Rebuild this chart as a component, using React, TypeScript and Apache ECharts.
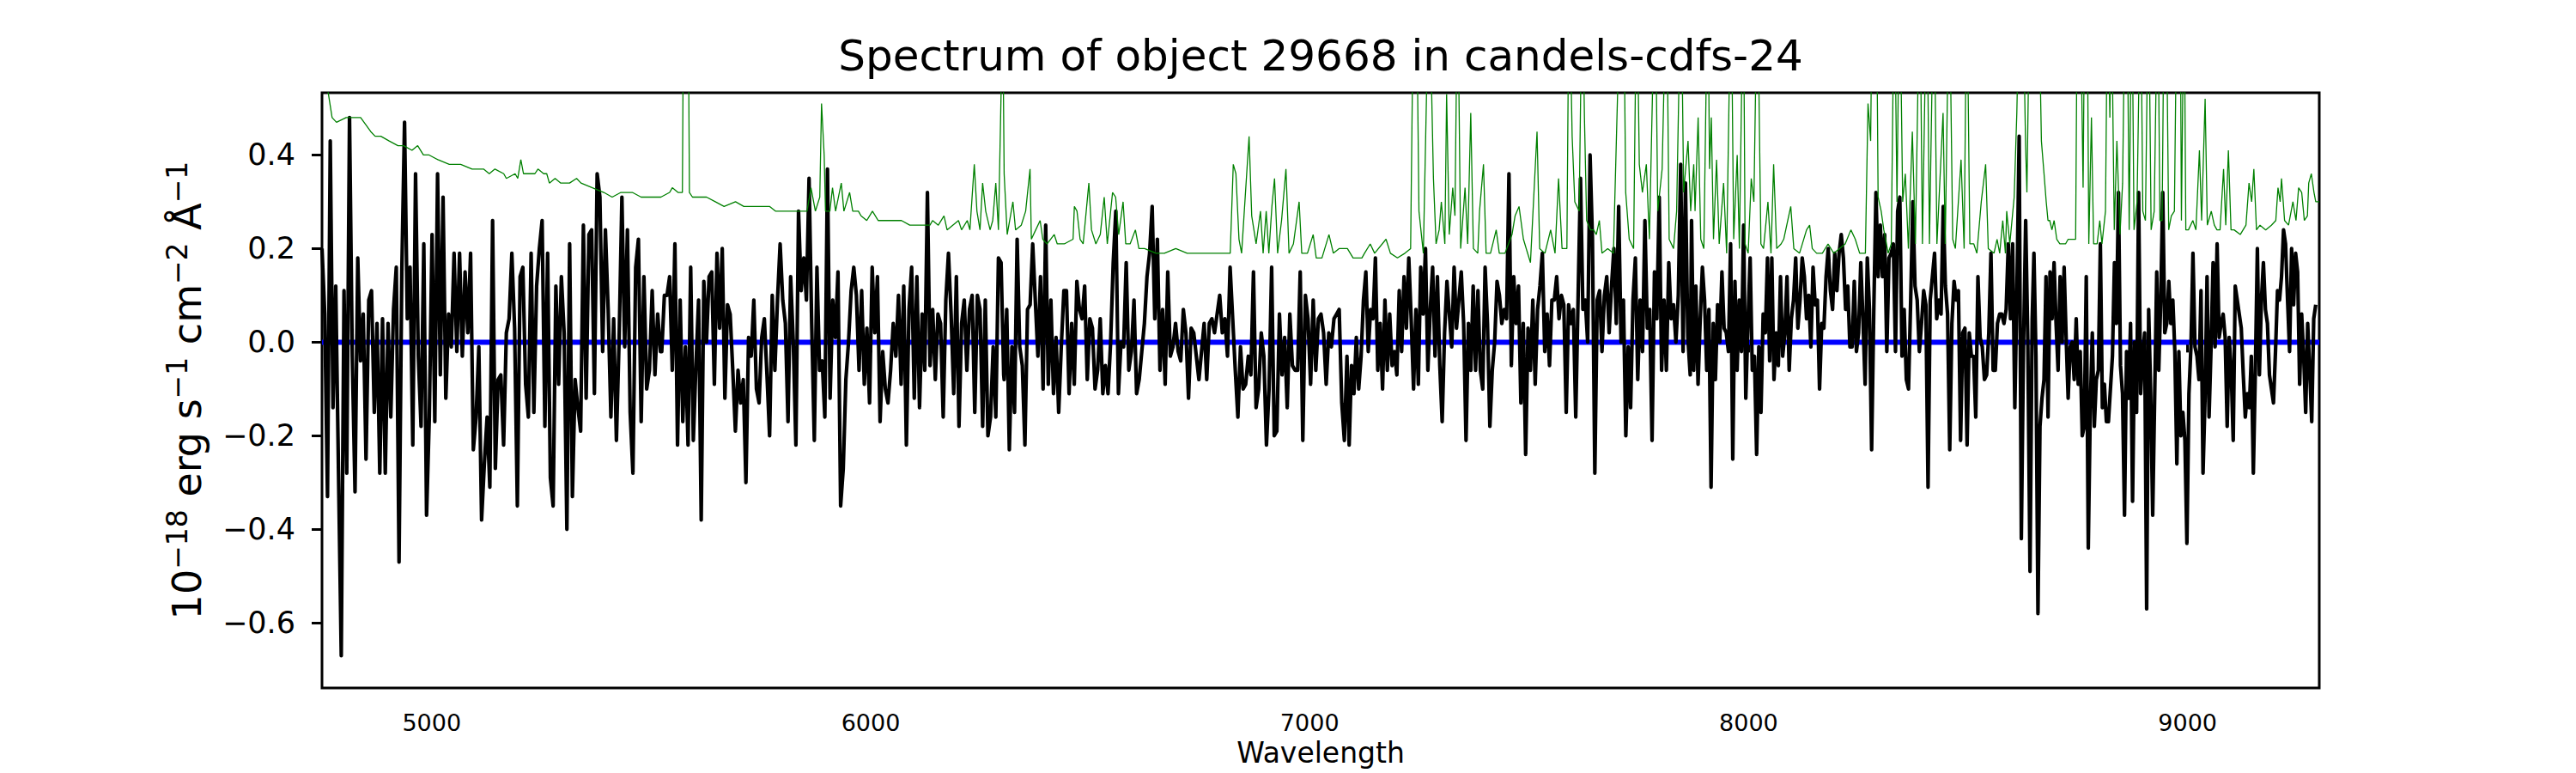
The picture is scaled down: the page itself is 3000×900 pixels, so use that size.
import React, { useEffect, useRef } from "react";
import * as echarts from "echarts";

// ---------------- data ----------------
const TITLE = "Spectrum of object 29668 in candels-cdfs-24";
const X_NAME = "Wavelength";
const X_MIN = 4750;
const X_MAX = 9300;
const Y_MIN = -0.739;
const Y_MAX = 0.533;
const X_TICKS = [5000, 6000, 7000, 8000, 9000];
const Y_TICKS = [-0.6, -0.4, -0.2, 0, 0.2, 0.4];

// flux values in units of 0.01 (x 1e-18 erg/s/cm2/A), sampled evenly inside each wavelength segment
const SEG_START = [4750, 5524, 6304, 7090, 7870, 8650];
const SEG_END = [5521, 6303, 7085, 7867, 8646, 9292];

const FLUX_A = [
  20, 6, -33, 43, -14, 12, -28, -67, 11, -28,
  48, -3, -32, 18, -4, 6, -25, 9, 11, -15,
  4, -28, 5, -28, 4, -16, 7, 16, -47, 15,
  47, 5, 16, -22, 36, -3, -18, 21, -37, -16,
  23, -17, 36, -7, 31, -12, 6, -1, 19, -2,
  19, -3, 15, 2, 19, -23, -16, -1, -38, -26,
  -16, -31, 26, -27, -8, -7, -22, 2, 5, 19,
  3, -35, 14, 16, -9, -16, 19, -15, 12, 20,
  26, -18, 19, -29, -35, 12, -9, 14, 2, -40,
  21, -33, -8, -14, -19, 25, -12, 23, 24, -11,
  36, 31, -2, 24, 7, -16, 5, -21, 1, 31,
  -1, 24, -15, -28, 16, 22, -17, 14, -10, -6,
  11, -7, 6, -2,
];

const FLUX_B = [
  -2, 10, 10, 14, -6, 21, -22, 9, -17, -1,
  -22, 16, -21, -5, 9, -38, 13, 0, 14, 15,
  -9, 19, 3, 20, -12, 8, 6, -6, -19, -6,
  -13, -8, -30, 1, -3, 9, -10, -13, 1, 5,
  -7, -20, 10, -6, 9, 21, 9, 4, -17, 14,
  0, -22, 28, 11, 18, 9, 35, 4, -21, 16,
  -6, -4, -16, 37, -12, 9, 1, 15, -35, -27,
  -8, 0, 11, 16, 10, -6, 11, -9, 3, -13,
  16, 2, 14, -17, -2, -10, -13, -6, 4, -3,
  10, -9, 12, -22, 7, 16, -12, 14, -14, 6,
  -6, 32, -5, 7, -8, 6, 4, -16, 9, 19,
  6, -11, 14, -18, 4, 9, -6, 7, 10, -15,
  10, 7, -18, 9, -20, -16, -1, -16, 18, 17, -7,
];

const FLUX_C = [
  -8, 7, -23, -1, -15, 22, -1, -5, -22, 7,
  8, 21, 9, -3, 14, -10, 25, -9, 9, -11,
  1, -15, -1, 11, 11, -11, 4, -9, 13, 7,
  5, 12, -8, 5, 3, -10, -6, 5, -11, -5,
  -11, 0, 17, 28, -11, 0, -1, 17, -6, -2,
  9, -11, -8, -2, 4, 14, 19, 29, 5, 22,
  -6, 7, -9, 15, -3, -1, 4, -2, -4, 7,
  2, -12, 3, 2, -3, -8, -2, 4, -8, 4,
  5, 2, 6, 10, 2, 5, -3, 16, 5, -6,
  -16, -1, -10, -9, -3, -7, 15, -14, -10, 2,
  -3, -22, -10, 16, -20, -19, 6, -7, 1, -14,
  6, -5, -6, -6, 15, -21, 10, 5, -9, 9,
  -6, 5, 6, 2, -9, 2, -1, 5, 6, 7,
  -13, -21, -3,
];

const FLUX_D = [
  -22, -5, -11, 1, -10, -3, 9, 15, -2, 7,
  5, 18, -6, 4, -10, 9, -6, 6, -5, -2,
  -7, 11, -2, 14, 3, 18, 5, -10, 7, -9,
  16, 6, 20, -6, 7, 16, -3, 14, -5, -17,
  2, 13, 6, -1, 16, 3, 9, 15, 4, -21,
  4, -6, 12, -6, 11, -6, -10, 16, 4, -18,
  -6, 0, 13, 10, 4, 7, 5, 36, -5, 14,
  4, 12, -13, 4, -24, 3, -6, 9, -9, 7,
  12, 19, -2, 6, -5, 9, 9, 14, 5, 10,
  8, -15, 8, 4, 7, -16, 10, 35, 7, 9,
  0, 40, 22, -28, 9, 11, -2, 10, 14, 2,
  12, 20, 4, 29, 0, 9, -20, -1, -14, 9,
  18, -8, 9, -2, 26, 3, 7, -21, 15, 5,
  31, -6, 9, -6, 17, 5, 8, 0, 10, 38,
  -2, 34, 1, -7,
];

const FLUX_E = [
  26, -6, 12, -9, 5, 16, 9, -6, 7, -31,
  4, -8, 8, 0, 15, 3, 2, -2, 21, -25,
  13, -6, 9, -2, 25, -12, 4, 18, -6, -3,
  -24, -1, -15, 6, 2, 18, -4, 18, -8, 2,
  -5, 14, -3, 2, 14, -6, 5, 9, 18, 3,
  9, 18, 14, 5, 10, -1, 16, 8, 9, -10,
  4, 3, 14, 20, 11, 7, 19, 11, 19, 23,
  18, 7, 12, -1, -1, 13, -2, 2, 17, 5,
  -9, 18, 7, -23, 7, 32, 14, 25, 14, 23,
  -2, 18, 19, 21, -2, 28, 31, -3, 7, -8,
  -10, 9, 30, 12, 9, -2, 4, 11, 8, -31,
  9, 14, 19, 5, 9, 6, 29, 12, 6, -23,
  4, 13, 9, 11, -21, 2, 3, -22, 2, -3,
  -3, -16, 14, 1, -1, -8, -7, 2, 19, -6,
  -6, 4, 6, 6, 4, 7, 21, 5, 21, -14,
  12, 44, -42, -1, 26, 0, -49, 5,
];

const FLUX_F = [
  19, -3, -58, -18, -12, -8, 14, -16, 15, 5,
  17, 4, -6, 14, 0, 16, 1, -12, -1, 0,
  -8, 5, -9, -2, -20, -18, 14, -44, -14, 2,
  -18, -8, -6, 21, -14, -9, -17, -17, -10, -3,
  17, 4, 32, -5, -11, -37, -2, -12, 4, -34,
  0, -15, 32, -11, -3, 2, -57, 7, -11, -37,
  -11, 15, -6, 9, 32, 2, 4, 13, 4, 9,
  -2, -26, -2, -20, -15, -21, -43, -11, -1, 19,
  -1, -3, -8, 11, -28, -12, 14, -16, -1, 17,
  -1, 21, 1, 4, 6, 1, -18, 1, -6, -21,
  12, 9, 6, 3, -7, -16, -11, -14, -3, -28,
  -6, 20, -7, 9, 17, 7, 4, -7, -10, -13,
  -2, 11, 9, 14, 24, 21, 9, -2, 20, 8,
  19, 15, -9, 6, -3, -15, 4, -6, -17, 5,
  8,
];

// error / sky spectrum (green), wavelength and value (units of 0.01); 80 = clipped above the frame
const ERR_WAVE = [
  4750, 4763, 4773, 4783, 4805, 4838, 4861, 4871, 4884, 4903,
  4923, 4936, 4955, 4968, 4981, 4994, 5014, 5040, 5066, 5092,
  5118, 5131, 5144, 5164, 5170, 5190, 5196, 5203, 5209, 5222,
  5235, 5242, 5255, 5262, 5268, 5281, 5294, 5314, 5330, 5340,
  5366, 5392, 5411, 5431, 5444, 5457, 5477, 5496, 5522, 5542,
  5548, 5561, 5571, 5574, 5584, 5587, 5594, 5607, 5620, 5626,
  5646, 5666, 5692, 5711, 5744, 5770, 5783, 5809, 5835, 5855,
  5864, 5874, 5884, 5888, 5894, 5897, 5907, 5913, 5920, 5933,
  5939, 5952, 5959, 5972, 5978, 5991, 6004, 6017, 6037, 6050,
  6070, 6089, 6115, 6135, 6141, 6154, 6167, 6174, 6200, 6207,
  6220, 6226, 6236, 6242, 6249, 6255, 6262, 6272, 6278, 6285,
  6291, 6297, 6300, 6304, 6311, 6324, 6330, 6343, 6353, 6363,
  6366, 6376, 6386, 6392, 6402, 6418, 6425, 6441, 6461, 6464,
  6470, 6477, 6484, 6497, 6503, 6513, 6523, 6532, 6539, 6551,
  6558, 6565, 6575, 6581, 6591, 6603, 6611, 6624, 6650, 6669,
  6695, 6721, 6747, 6760, 6787, 6819, 6826, 6832, 6839, 6845,
  6862, 6868, 6878, 6888, 6894, 6901, 6907, 6914, 6920, 6927,
  6936, 6946, 6953, 6963, 6976, 6982, 6995, 7008, 7015, 7028,
  7044, 7054, 7067, 7086, 7099, 7119, 7125, 7138, 7148, 7174,
  7184, 7200, 7217, 7230, 7237, 7243, 7249, 7259, 7272, 7282,
  7288, 7295, 7300, 7308, 7312, 7318, 7326, 7331, 7337, 7344,
  7354, 7360, 7367, 7373, 7383, 7387, 7396, 7402, 7412, 7425,
  7432, 7445, 7461, 7468, 7477, 7487, 7503, 7518, 7524, 7536,
  7549, 7559, 7567, 7575, 7586, 7591, 7598, 7604, 7614, 7621,
  7626, 7631, 7640, 7647, 7653, 7660, 7666, 7679, 7692, 7709,
  7715, 7720, 7728, 7738, 7745, 7751, 7758, 7767, 7774, 7787,
  7793, 7803, 7813, 7819, 7829, 7836, 7846, 7852, 7862, 7868,
  7875, 7878, 7885, 7891, 7898, 7907, 7911, 7915, 7920, 7927,
  7933, 7943, 7950, 7960, 7966, 7974, 7979, 7988, 7992, 7999,
  8006, 8012, 8020, 8028, 8034, 8044, 8051, 8057, 8064, 8074,
  8080, 8096, 8103, 8116, 8132, 8139, 8145, 8155, 8168, 8181,
  8194, 8207, 8220, 8233, 8243, 8253, 8266, 8272, 8278, 8282,
  8291, 8295, 8302, 8308, 8318, 8325, 8332, 8338, 8344, 8351,
  8357, 8364, 8373, 8380, 8390, 8396, 8406, 8412, 8422, 8429,
  8443, 8448, 8457, 8465, 8471, 8484, 8491, 8497, 8504, 8513,
  8520, 8530, 8540, 8546, 8559, 8566, 8572, 8579, 8585, 8588,
  8595, 8605, 8611, 8618, 8624, 8631, 8634, 8641, 8650, 8660,
  8667, 8673, 8678, 8682, 8686, 8691, 8696, 8702, 8709, 8715,
  8722, 8728, 8735, 8745, 8749, 8755, 8762, 8766, 8771, 8775,
  8781, 8786, 8794, 8800, 8805, 8813, 8818, 8823, 8826, 8833,
  8839, 8846, 8852, 8858, 8862, 8867, 8873, 8878, 8885, 8893,
  8898, 8904, 8911, 8917, 8924, 8932, 8937, 8942, 8947, 8951,
  8957, 8963, 8970, 8976, 8983, 8986, 8992, 8996, 9002, 9012,
  9019, 9027, 9032, 9040, 9045, 9054, 9061, 9067, 9074, 9082,
  9087, 9093, 9099, 9106, 9120, 9133, 9140, 9146, 9151, 9157,
  9165, 9178, 9191, 9201, 9206, 9211, 9214, 9221, 9230, 9240,
  9247, 9253, 9260, 9266, 9273, 9276, 9282, 9288, 9292, 9300,
];

const ERR_FLUX = [
  56, 54, 48, 47, 48, 48, 45, 44, 44, 43,
  42, 42, 41, 42, 40, 40, 39, 38, 38, 37,
  37, 36, 37, 36, 35, 36, 35, 39, 36, 36,
  36, 37, 36, 36, 34, 35, 34, 34, 35, 34,
  33, 32, 31, 32, 32, 32, 31, 31, 31, 32,
  33, 32, 32, 80, 80, 32, 31, 31, 31, 31,
  30, 29, 30, 29, 29, 29, 28, 28, 28, 28,
  33, 28, 31, 51, 40, 28, 28, 33, 28, 34,
  28, 32, 28, 28, 27, 26, 28, 26, 26, 26,
  26, 25, 25, 25, 26, 25, 27, 24, 26, 24,
  26, 24, 38, 28, 24, 34, 28, 24, 26, 34,
  24, 53, 80, 36, 23, 30, 24, 25, 28, 37,
  22, 24, 26, 22, 21, 23, 21, 21, 22, 29,
  28, 22, 21, 34, 24, 21, 23, 31, 21, 32,
  31, 23, 30, 21, 21, 24, 20, 20, 19, 19,
  20, 19, 19, 19, 19, 19, 38, 36, 22, 19,
  44, 27, 21, 28, 19, 28, 19, 29, 35, 19,
  26, 37, 19, 21, 30, 19, 19, 23, 18, 18,
  23, 19, 20, 20, 18, 18, 19, 21, 19, 22,
  19, 18, 19, 20, 80, 80, 28, 19, 80, 35,
  21, 24, 30, 21, 53, 23, 33, 27, 80, 20,
  33, 21, 49, 20, 19, 28, 38, 19, 19, 24,
  19, 19, 23, 27, 29, 22, 17, 45, 20, 19,
  24, 19, 35, 20, 20, 80, 44, 30, 28, 80,
  48, 26, 24, 24, 23, 26, 19, 20, 19, 80,
  80, 32, 22, 20, 80, 38, 32, 38, 22, 80,
  28, 37, 80, 22, 20, 28, 80, 32, 43, 28,
  38, 28, 48, 22, 20, 80, 37, 48, 22, 39,
  21, 34, 19, 80, 22, 40, 20, 80, 21, 19,
  35, 30, 80, 21, 20, 30, 19, 38, 20, 21,
  22, 29, 20, 19, 24, 25, 20, 19, 19, 21,
  19, 20, 21, 24, 22, 19, 19, 51, 43, 80,
  80, 31, 28, 24, 19, 21, 80, 30, 80, 30,
  36, 20, 45, 21, 80, 21, 80, 21, 80, 21,
  49, 21, 80, 22, 20, 39, 20, 80, 21, 21,
  19, 30, 38, 20, 19, 22, 19, 26, 19, 28,
  21, 31, 49, 80, 80, 42, 32, 80, 80, 80,
  43, 36, 30, 26, 26, 24, 26, 22, 21, 21,
  21, 22, 22, 22, 80, 80, 33, 80, 80, 21,
  48, 21, 21, 26, 21, 28, 80, 48, 80, 24,
  43, 23, 34, 80, 80, 24, 80, 24, 30, 80,
  28, 26, 80, 24, 28, 80, 26, 26, 80, 80,
  24, 27, 28, 80, 80, 26, 80, 24, 24, 26,
  24, 41, 26, 52, 25, 28, 25, 24, 24, 37,
  25, 41, 24, 24, 23, 25, 34, 30, 37, 24,
  25, 24, 25, 26, 33, 30, 35, 26, 25, 30,
  26, 33, 32, 26, 27, 34, 36, 32, 30, 30,
];

// zero reference (blue)
const ZERO_WAVE = [4750, 9300];
const ZERO_FLUX = [0, 0];

const VALUE_UNIT = 0.01;

// ---------------- helpers ----------------
const FLUX_SEGMENTS = [FLUX_A, FLUX_B, FLUX_C, FLUX_D, FLUX_E, FLUX_F];

function buildFlux(): [number, number][] {
  const out: [number, number][] = [];
  FLUX_SEGMENTS.forEach((vals, s) => {
    const a = SEG_START[s];
    const b = SEG_END[s];
    const n = vals.length;
    vals.forEach((v, i) => {
      const w = n > 1 ? a + ((b - a) * i) / (n - 1) : a;
      out.push([w, v * VALUE_UNIT]);
    });
  });
  return out;
}

function buildErr(): [number, number][] {
  const n = Math.min(ERR_WAVE.length, ERR_FLUX.length);
  const out: [number, number][] = [];
  for (let i = 0; i < n; i++) out.push([ERR_WAVE[i], ERR_FLUX[i] * VALUE_UNIT]);
  return out;
}

function buildZero(): [number, number][] {
  return ZERO_WAVE.map((w, i) => [w, ZERO_FLUX[i]] as [number, number]);
}

const FONT = "DejaVu Sans";
const MINUS = "\u2212";

export default function App() {
  const ref = useRef<HTMLDivElement>(null);

  useEffect(() => {
    document.body.style.margin = "0";
    if (!ref.current) return;
    const chart = echarts.init(ref.current, undefined, { renderer: "svg" });

    const gridLeft = 375;
    const gridTop = 108;
    const gridWidth = 2326;
    const gridHeight = 693;

    chart.setOption({
      animation: false,
      backgroundColor: "#ffffff",
      grid: {
        left: gridLeft,
        top: gridTop,
        width: gridWidth,
        height: gridHeight,
        show: true,
        borderColor: "#000000",
        borderWidth: 3,
        backgroundColor: "transparent",
        containLabel: false,
      },
      xAxis: {
        type: "value",
        min: X_MIN,
        max: X_MAX,
        name: X_NAME,
        nameLocation: "middle",
        nameGap: 57,
        nameTextStyle: { fontFamily: FONT, fontSize: 33, color: "#000" },
        axisLine: { show: false },
        splitLine: { show: false },
        axisTick: {
          show: true,
          length: 12,
          lineStyle: { color: "#000", width: 3 },
          customValues: X_TICKS,
        },
        axisLabel: {
          show: true,
          margin: 27,
          fontFamily: FONT,
          fontSize: 27,
          color: "#000",
          customValues: X_TICKS,
          formatter: (v: number) => String(Math.round(v)),
        },
      },
      yAxis: {
        type: "value",
        min: Y_MIN,
        max: Y_MAX,
        axisLine: { show: false },
        splitLine: { show: false },
        axisTick: {
          show: true,
          length: 12,
          lineStyle: { color: "#000", width: 3 },
          customValues: Y_TICKS,
        },
        axisLabel: {
          show: true,
          margin: 31,
          fontFamily: FONT,
          fontSize: 35,
          color: "#000",
          customValues: Y_TICKS,
          formatter: (v: number) => v.toFixed(1).replace("-", MINUS),
        },
      },
      graphic: [
        {
          type: "text",
          x: gridLeft + gridWidth / 2,
          y: 65,
          silent: true,
          style: {
            text: TITLE,
            fontFamily: FONT,
            fontSize: 50,
            fill: "#000",
            align: "center",
            verticalAlign: "middle",
          },
        },
        {
          type: "text",
          x: 218,
          y: gridTop + gridHeight / 2,
          rotation: Math.PI / 2,
          silent: true,
          style: {
            text:
              "{m|10}{s|" + MINUS + "18}{m| erg s}{s|" + MINUS + "1}{m| cm}{s|" + MINUS + "2}{m| \u00c5}{s|" + MINUS + "1}",
            fill: "#000",
            align: "center",
            verticalAlign: "middle",
            rich: {
              m: { fontFamily: FONT, fontSize: 46, lineHeight: 56, fill: "#000" },
              s: { fontFamily: FONT, fontSize: 33, lineHeight: 26, verticalAlign: "top", fill: "#000" },
            },
          },
        },
      ],
      series: [
        {
          type: "line",
          name: "zero",
          data: buildZero(),
          symbol: "none",
          showSymbol: false,
          silent: true,
          clip: true,
          lineStyle: { color: "#0000ff", width: 6 },
          emphasis: { disabled: true },
          z: 2,
        },
        {
          type: "line",
          name: "flux",
          data: buildFlux(),
          symbol: "none",
          showSymbol: false,
          silent: true,
          clip: true,
          lineStyle: { color: "#000000", width: 4.2, join: "round" },
          emphasis: { disabled: true },
          z: 3,
        },
        {
          type: "line",
          name: "error",
          data: buildErr(),
          symbol: "none",
          showSymbol: false,
          silent: true,
          clip: true,
          lineStyle: { color: "#008000", width: 1.3 },
          emphasis: { disabled: true },
          z: 4,
        },
      ],
    });

    return () => {
      chart.dispose();
    };
  }, []);

  return <div ref={ref} style={{ width: 3000, height: 900 }} />;
}
